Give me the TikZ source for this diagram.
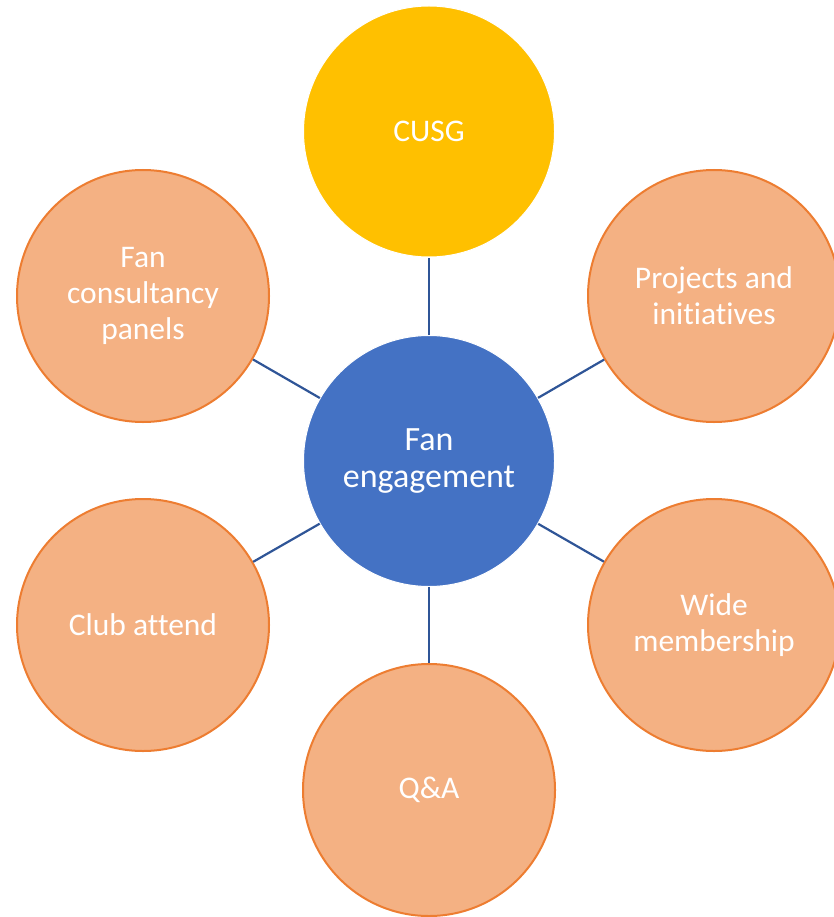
\documentclass[tikz,border=0pt]{standalone}
\usepackage{fontspec}
\setmainfont{Carlito}[Ligatures={NoCommon}]
\definecolor{orfill}{HTML}{F4B183}
\definecolor{ordraw}{HTML}{ED7D31}
\definecolor{bluefill}{HTML}{4472C4}
\definecolor{yelfill}{HTML}{FFC000}
\definecolor{linkcol}{HTML}{2F5597}
\tikzset{
  bubble/.style={circle, minimum size=251pt, inner sep=0pt, align=center, text=white,
    font=\fontsize{31.5}{36}\selectfont},
  orbub/.style={bubble, fill=orfill, draw=ordraw, line width=2pt, minimum size=252pt},
  hubbub/.style={bubble, fill=bluefill, draw=white, line width=1pt,
    font=\fontsize{34}{37}\selectfont},
  topbub/.style={bubble, fill=yelfill, draw=white, line width=1pt},
  link/.style={draw=linkcol, line width=2.2pt}
}
\begin{document}
\begin{tikzpicture}[x=1pt,y=-1pt]
\useasboundingbox (0,0) rectangle (833,917);
\node[hubbub] (hub) at (429,461) {Fan\\engagement};
\node[topbub] (cusg) at (429,131.5) {CUSG};
\node[orbub] (fcp) at (143,296) {Fan\\consultancy\\panels};
\node[orbub] (proj) at (714,296) {Projects and\\initiatives};
\node[orbub] (club) at (143,625) {Club attend};
\node[orbub] (wide) at (714,625) {Wide\\membership};
\node[orbub] (qa) at (429,790) {Q\&A};
\draw[link] (hub) -- (cusg);
\draw[link] (hub) -- (fcp);
\draw[link] (hub) -- (proj);
\draw[link] (hub) -- (club);
\draw[link] (hub) -- (wide);
\draw[link] (hub) -- (qa);
\end{tikzpicture}
\end{document}
